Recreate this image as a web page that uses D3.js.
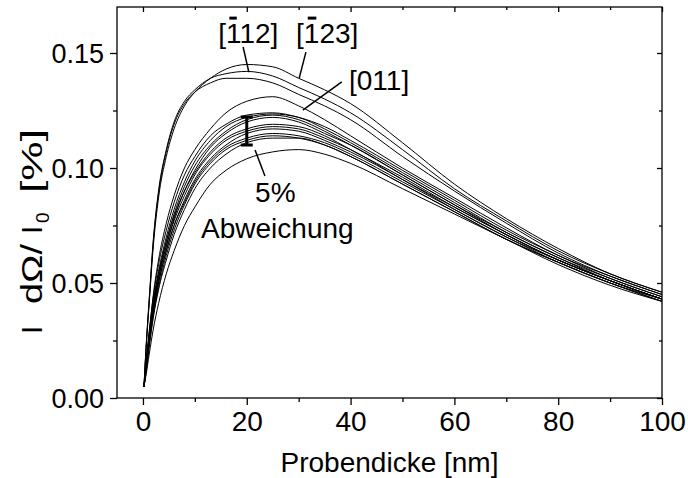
<!DOCTYPE html>
<html>
<head>
<meta charset="utf-8">
<script src="https://cdn.jsdelivr.net/npm/d3@7"></script>
<style>
  body { margin: 0; background: #fff; }
  text { font-family: "Liberation Sans", Arial, sans-serif; fill: #000; }
</style>
</head>
<body>
<svg id="chart" width="688" height="478"></svg>
<script>
// thickness grid (nm) shared by every measured curve
const thickness = [0.2, 0.6, 1.2, 2, 3, 4.5, 6, 8, 10, 13, 16, 20, 25, 30, 35, 40, 50, 60, 70, 80, 90, 100];

// upper group: [-112], [-123], third one, and [011]
const u1 = [.005,.021,.041,.066,.087,.105,.117,.127,.133,.139,.143,.145,.144,.139,.134,.128,.111,.093,.078,.065,.054,.046];
const u2 = [.005,.022,.043,.069,.090,.108,.120,.129,.134,.139,.141,.142,.140,.135,.130,.124,.108,.091,.077,.064,.054,.046];
const u3 = [.005,.022,.042,.068,.089,.107,.119,.128,.133,.137,.139,.139,.137,.132,.127,.121,.105,.090,.076,.063,.053,.045];
const u4 = [.005,.015,.028,.045,.060,.076,.088,.100,.108,.117,.124,.129,.131,.127,.121,.114,.100,.087,.074,.062,.053,.045];

// main bundle
const k1 = [.005,.015,.029,.044,.058,.073,.085,.097,.105,.114,.119,.123,.124,.122,.118,.112,.099,.086,.073,.062,.052,.044];
const k2 = [.005,.014,.027,.042,.055,.070,.082,.094,.103,.112,.118,.122,.1235,.122,.117,.111,.098,.085,.072,.061,.052,.044];
const k3 = [.005,.013,.026,.040,.053,.068,.080,.092,.101,.110,.116,.121,.123,.121,.116,.110,.097,.084,.072,.061,.051,.043];
const k4 = [.005,.013,.025,.039,.052,.066,.078,.090,.099,.109,.115,.120,.122,.120,.115,.110,.097,.084,.071,.060,.051,.043];
const k5 = [.005,.014,.027,.041,.054,.068,.079,.090,.098,.107,.113,.117,.119,.118,.114,.108,.096,.083,.071,.060,.051,.043];
const k6 = [.005,.013,.025,.039,.052,.066,.077,.088,.097,.106,.112,.116,.118,.117,.113,.108,.095,.083,.071,.060,.051,.043];
const k7 = [.005,.012,.024,.037,.050,.064,.075,.086,.095,.104,.110,.115,.117,.116,.112,.107,.095,.082,.070,.060,.051,.043];
const k8 = [.005,.013,.025,.038,.050,.064,.075,.085,.094,.103,.109,.113,.115,.114,.111,.106,.094,.082,.070,.059,.050,.043];
const k9 = [.005,.012,.023,.036,.048,.062,.073,.084,.093,.102,.108,.112,.114,.113,.110,.105,.093,.081,.069,.059,.050,.042];
const k10 = [.005,.011,.022,.035,.047,.060,.071,.082,.091,.100,.106,.111,.113,.113,.110,.105,.093,.081,.069,.059,.050,.042];
const low = [.005,.010,.019,.030,.041,.054,.064,.075,.083,.093,.099,.104,.107,.108,.106,.102,.091,.080,.069,.058,.049,.042];

const curves = [u1, u2, u3, u4, k1, k2, k3, k4, k5, k6, k7, k8, k9, k10, low];

const xTicks = [0, 20, 40, 60, 80, 100];
const xMinor = [10, 30, 50, 70, 90];
const yTicks = [0, 0.05, 0.10, 0.15];
const yMinor = [0.025, 0.075, 0.125];

// annotations, in data units
const labels = [
  { text: "[112]", bar: 1, x: 14.5, y: 0.1543 },
  { text: "[123]", bar: 1, x: 29.5, y: 0.1543 },
  { text: "[011]", bar: -1, x: 39.7, y: 0.1339 },
  { text: "5%", bar: -1, x: 21.6, y: 0.0852 },
  { text: "Abweichung", bar: -1, x: 11.2, y: 0.0696 }
];
const leaders = [
  [[19.3, 0.1526], [20.4, 0.1417]],
  [[31.4, 0.1504], [30.1, 0.1391]],
  [[38.3, 0.1374], [30.8, 0.1252]],
  [[21.6, 0.1078], [23.5, 0.0965]]
];
const errBar = { x: 20, lo: 0.110, hi: 0.1222 };

// y title pieces: text, start and length along the rotated axis
const yTitle = [
  { t: "I", u: 0 },
  { t: "dΩ/", u: 30, len: 60 },
  { t: "I", u: 100 },
  { t: "0", u: 111, sub: true },
  { t: "[%]", u: 141, len: 64 }
];

const svg = d3.select("#chart");
const margin = { top: 7, right: 26, bottom: 80, left: 117 };
const width = +svg.attr("width");
const height = +svg.attr("height");
const plotWidth = width - margin.left - margin.right;
const plotHeight = height - margin.top - margin.bottom;

const g = svg.append("g")
  .attr("transform", `translate(${margin.left},${margin.top})`);

const x = d3.scaleLinear().domain([-5, 100]).range([0, plotWidth]);
const y = d3.scaleLinear().domain([0, 0.17]).range([plotHeight, 0]);

const line = d3.line()
  .x((d, i) => x(thickness[i]))
  .y(d => y(d))
  .curve(d3.curveMonotoneX);

g.selectAll(".curve")
  .data(curves)
  .join("path")
  .attr("class", "curve")
  .attr("d", line)
  .attr("fill", "none")
  .attr("stroke", "#000")
  .attr("stroke-width", 1);

// axes
const axisStyle = sel => {
  sel.select(".domain").remove();
  sel.selectAll("line").attr("stroke", "#000").attr("stroke-width", 1.3);
};

g.append("g")
  .attr("transform", `translate(0,${plotHeight})`)
  .call(d3.axisBottom(x).tickValues(xTicks).tickSize(7).tickPadding(6).tickFormat(d3.format("d")))
  .call(axisStyle)
  .call(s => s.selectAll("text").attr("font-size", 28).attr("font-family", null));

g.append("g")
  .attr("transform", `translate(0,${plotHeight})`)
  .call(d3.axisBottom(x).tickValues(xMinor).tickSize(4).tickFormat(""))
  .call(axisStyle);

g.append("g")
  .call(d3.axisLeft(y).tickValues(yTicks).tickSize(7).tickPadding(6).tickFormat(d3.format(".2f")))
  .call(axisStyle)
  .call(s => s.selectAll("text").attr("font-size", 27).attr("font-family", null).attr("dy", "0.36em"));

g.append("g")
  .call(d3.axisLeft(y).tickValues(yMinor).tickSize(4).tickFormat(""))
  .call(axisStyle);

// inward ticks on top and right
g.append("g")
  .call(d3.axisBottom(x).tickValues(xTicks).tickSize(5).tickFormat(""))
  .call(axisStyle);
g.append("g")
  .call(d3.axisBottom(x).tickValues(xMinor).tickSize(3).tickFormat(""))
  .call(axisStyle);
g.append("g")
  .attr("transform", `translate(${plotWidth},0)`)
  .call(d3.axisLeft(y).tickValues(yTicks).tickSize(5).tickFormat(""))
  .call(axisStyle);
g.append("g")
  .attr("transform", `translate(${plotWidth},0)`)
  .call(d3.axisLeft(y).tickValues(yMinor).tickSize(3).tickFormat(""))
  .call(axisStyle);

g.append("rect")
  .attr("width", plotWidth)
  .attr("height", plotHeight)
  .attr("fill", "none")
  .attr("stroke", "#000")
  .attr("stroke-width", 1.3);

// axis titles
g.append("text")
  .attr("x", plotWidth / 2)
  .attr("y", plotHeight + 74)
  .attr("text-anchor", "middle")
  .attr("font-size", 28)
  .text("Probendicke [nm]");

const yl = svg.append("text")
  .attr("transform", "translate(42,334) rotate(-90)")
  .attr("font-size", 30);
yTitle.forEach(p => {
  const ts = yl.append("tspan")
    .attr("x", p.u)
    .attr("y", p.sub ? 7 : 0)
    .attr("font-size", p.sub ? 19 : null)
    .text(p.t);
  if (p.len) ts.attr("textLength", p.len).attr("lengthAdjust", "spacingAndGlyphs");
});

// annotations
labels.forEach(l => {
  const t = g.append("text")
    .attr("x", x(l.x))
    .attr("y", y(l.y))
    .attr("font-size", 28)
    .text(l.text);
  if (l.bar >= 0) {
    const off = t.node().getSubStringLength(0, l.bar);
    const w = t.node().getSubStringLength(l.bar, 1);
    g.append("line")
      .attr("x1", x(l.x) + off + w * 0.25)
      .attr("x2", x(l.x) + off + w * 0.8)
      .attr("y1", y(l.y) - 25)
      .attr("y2", y(l.y) - 25)
      .attr("stroke", "#000")
      .attr("stroke-width", 3);
  }
});

g.selectAll(".leader")
  .data(leaders)
  .join("line")
  .attr("class", "leader")
  .attr("x1", d => x(d[0][0]))
  .attr("y1", d => y(d[0][1]))
  .attr("x2", d => x(d[1][0]))
  .attr("y2", d => y(d[1][1]))
  .attr("stroke", "#000")
  .attr("stroke-width", 1.5);

const eb = g.append("g").attr("stroke", "#000").attr("stroke-width", 3);
eb.append("line")
  .attr("x1", x(errBar.x)).attr("x2", x(errBar.x))
  .attr("y1", y(errBar.lo)).attr("y2", y(errBar.hi));
[errBar.lo, errBar.hi].forEach(v => {
  eb.append("line")
    .attr("x1", x(errBar.x) - 6).attr("x2", x(errBar.x) + 6)
    .attr("y1", y(v)).attr("y2", y(v));
});
</script>
</body>
</html>
